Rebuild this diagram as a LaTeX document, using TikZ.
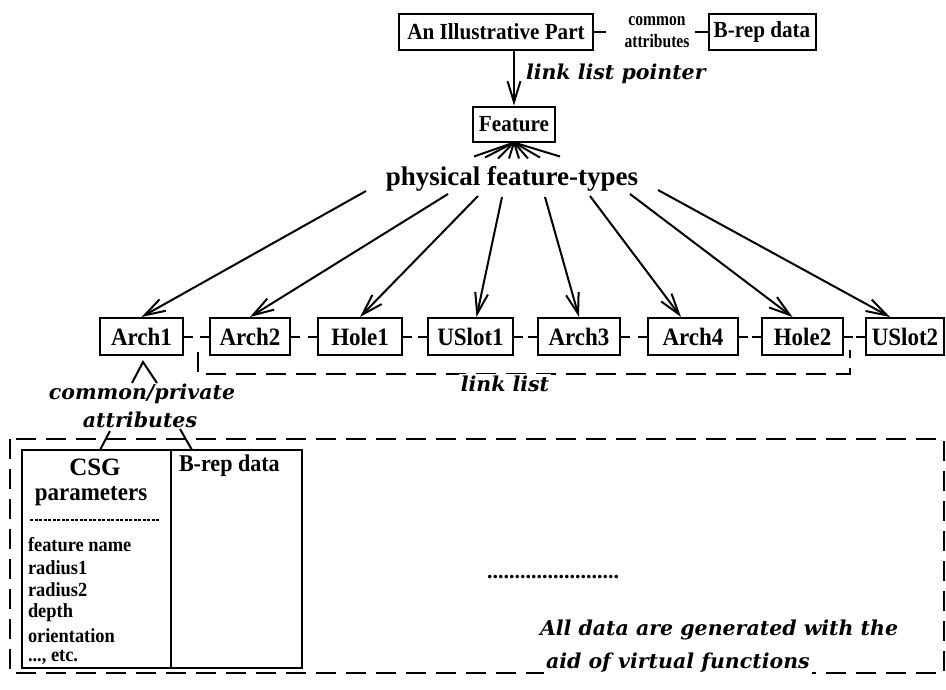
\documentclass[tikz,border=0pt]{standalone}
\usepackage{fontspec}
\setmainfont{Liberation Serif}
\newfontfamily\labelfont{DejaVu Serif}
\newfontfamily\narrowfont[FakeStretch=0.92]{Liberation Serif}
\newfontfamily\tightfont[FakeStretch=0.82]{Liberation Serif}
\usetikzlibrary{arrows.meta}

\begin{document}
\begin{tikzpicture}[x=1pt,y=-1pt,
  every path/.style={line width=2pt},
  box/.style={draw, line width=2pt, inner sep=0pt, minimum height=36pt,
    font=\narrowfont\fontsize{23}{25}\selectfont\bfseries},
  plain/.style={inner sep=0pt, font=\fontsize{23}{25}\selectfont\bfseries},
  note/.style={inner sep=1pt, font=\labelfont\fontsize{20.5}{22}\selectfont\bfseries\itshape},
  item/.style={inner sep=0pt, anchor=west, font=\narrowfont\fontsize{20}{22}\selectfont\bfseries},
  barb/.style={-{Straight Barb[length=21pt,width=13pt,line width=2pt]}},
  longdash/.style={dash pattern=on 20pt off 10pt}
]
\useasboundingbox (0,0) rectangle (946,689);

% top level: part, its attributes and the feature root
\node[box, minimum width=194pt] (part) at (496,31.5) {An Illustrative Part};
\node[plain, font=\tightfont\fontsize{19}{20}\selectfont\bfseries] (common1) at (657,21) {common};
\node[plain, font=\tightfont\fontsize{19}{20}\selectfont\bfseries] (common2) at (657,41) {attributes};
\node[box, minimum width=107pt] (brep) at (762,31.5) {B-rep data};
\draw (part.east) -- ++(12,0);
\draw (brep.west) -- ++(-13,0);

\node[box, minimum width=82pt, minimum height=35pt] (feat) at (514,124) {Feature};
\draw[barb] (part.south -| feat.north) -- (feat.north);
\node[note, anchor=west] (llp) at (524,74) {link list pointer};

% crow's foot under the feature root
\foreach \dx/\dy in {-40/14,-29/15,-16/16,-5/16,5/16,14/16,26/15,46/14}
  \draw (feat.south) -- ++(\dx,\dy);

\node[plain, font=\fontsize{27}{29}\selectfont\bfseries] (phys) at (512,179) {physical feature-types};

% feature instances
\tikzset{rowbox/.style={box, font=\narrowfont\fontsize{25}{27}\selectfont\bfseries, minimum height=37pt}}
\node[rowbox, minimum width=83pt] (a1) at (141.5,336.5) {Arch1};
\node[rowbox, minimum width=80pt] (a2) at (250,336.5) {Arch2};
\node[rowbox, minimum width=84pt] (h1) at (360,336.5) {Hole1};
\node[rowbox, minimum width=85pt] (u1) at (470.5,336.5) {USlot1};
\node[rowbox, minimum width=82pt] (a3) at (579,336.5) {Arch3};
\node[rowbox, minimum width=90pt] (a4) at (693,336.5) {Arch4};
\node[rowbox, minimum width=81pt] (h2) at (802.5,336.5) {Hole2};
\node[rowbox, minimum width=78pt] (u2) at (905,336.5) {USlot2};

% arrows from the type label to each instance
\coordinate (s1) at (366,191);
\coordinate (s2) at (448,194);
\coordinate (s3) at (478,196);
\coordinate (s4) at (502,197);
\coordinate (s5) at (545,197);
\coordinate (s6) at (590,196);
\coordinate (s7) at (630,194);
\coordinate (s8) at (658,190);
\draw[barb] (s1) -- (a1.north);
\draw[barb] (s2) -- (a2.north);
\draw[barb] (s3) -- (h1.north);
\draw[barb] (s4) -- ([xshift=6pt]u1.north);
\draw[barb] (s5) -- (a3.north);
\draw[barb] (s6) -- ([xshift=-12pt]a4.north);
\draw[barb] (s7) -- ([xshift=-10pt]h2.north);
\draw[barb] (s8) -- ([xshift=-15pt]u2.north);

% link list between instances
\foreach \l/\r in {a1/a2,a2/h1,h1/u1,u1/a3,a3/a4,a4/h2,h2/u2} {
  \draw (\l.east) -- ++(9,0);
  \draw (\r.west) -- ++(-9,0);
}
\coordinate (ll1) at (198,352);
\coordinate (ll2) at (850,350);
\draw[longdash] (ll1) -- (198,374) -- (850,374) -- (ll2);
\node[note, fill=white, inner sep=2pt] (ll) at (505,384) {link list};

% attributes of one instance
\coordinate (cpv) at (143,362);
\draw (132,383) -- (cpv) -- (157,383);
\node[note] (cp1) at (142,394) {common/private};
\node[note] (cp2) at (140,420) {attributes};

% data container
\draw[longdash] (10,439) rectangle (944,673);
\node[draw, line width=2pt, minimum width=280pt, minimum height=218pt, inner sep=0pt] (tab) at (162,559) {};
\draw (110,431) -- (100,450);
\draw (180,429) -- (192,450);
\draw (171,450) -- (171,668);
\node[plain, font=\fontsize{25}{27}\selectfont\bfseries] (csg) at (95,467) {CSG};
\node[plain, font=\narrowfont\fontsize{25}{27}\selectfont\bfseries] (par) at (91,496) {parameters};
\draw[line width=1.4pt, dash pattern=on 3pt off 1.5pt] (30,520) -- (160,520);
\node[plain, anchor=west, font=\narrowfont\fontsize{24}{26}\selectfont\bfseries] (brep2) at (178,466) {B-rep data};
\node[item] (i1) at (27,545) {feature name};
\node[item] (i2) at (27,568) {radius1};
\node[item] (i3) at (27,590) {radius2};
\node[item] (i4) at (27,613) {depth};
\node[item] (i5) at (27,636) {orientation};
\node[item] (i6) at (27,657) {..., etc.};

\node[plain, font=\fontsize{22}{24}\selectfont\bfseries] (dots) at (553,577) {........................};

\node[note, anchor=west] (gen1) at (538,630) {All data are generated with the};
\node[note, anchor=west, fill=white, inner sep=2pt] (gen2) at (543,663) {aid of virtual functions};
\end{tikzpicture}
\end{document}
